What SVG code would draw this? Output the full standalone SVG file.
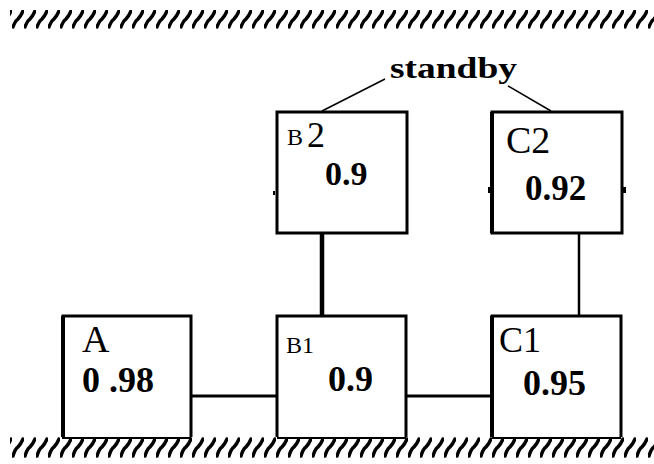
<svg xmlns="http://www.w3.org/2000/svg" width="654" height="464" viewBox="0 0 654 464">
<style>
.box{fill:#fff;stroke:#000;stroke-width:3}
.side{stroke:#000;stroke-width:3;fill:none}
.lbl{font-family:"Liberation Serif",serif;fill:#000}
.num{font-family:"Liberation Serif",serif;font-weight:bold;fill:#000}
.con{stroke:#000;fill:none}
.hs{stroke:#000;stroke-width:3.4;fill:none;stroke-linecap:round}
</style>
<defs>
<pattern id="hatch" x="0" y="10" width="12" height="40" patternUnits="userSpaceOnUse">
<path class="hs" d="M1,17 Q3,11 6,9 Q9,6 11,1"/>
</pattern>
<pattern id="hatchB" x="0" y="437" width="12" height="40" patternUnits="userSpaceOnUse">
<path class="hs" d="M1,19 Q3,12 6,10 Q9,7 11,2"/>
</pattern>
</defs>
<rect width="654" height="464" fill="#fff"/>
<g id="ground-top">
<rect x="10" y="9" width="644" height="20" fill="url(#hatch)"/>
</g>
<g id="ground-bottom">
<rect x="10" y="437" width="644" height="22" fill="url(#hatchB)"/>
<line x1="62" y1="438" x2="191" y2="438" stroke="#000" stroke-width="2"/>
<line x1="277" y1="438" x2="406" y2="438" stroke="#000" stroke-width="2"/>
<line x1="492" y1="438" x2="621" y2="438" stroke="#000" stroke-width="2"/>
</g>
<g id="connectors">
<line class="con" x1="191" y1="396" x2="277" y2="396" stroke-width="3"/>
<line class="con" x1="406" y1="396" x2="492" y2="396" stroke-width="3"/>
<line class="con" x1="322" y1="233" x2="322" y2="315" stroke-width="4.5"/>
<line class="con" x1="579" y1="233" x2="579" y2="315" stroke-width="2.5"/>
<line class="con" x1="385" y1="79" x2="322" y2="111" stroke-width="1.5"/>
<line class="con" x1="508" y1="86" x2="551" y2="111" stroke-width="1.5"/>
</g>
<g id="A">
<path class="side" d="M63,437 V316 H191 V437"/>
<line x1="63" y1="316" x2="63" y2="437" stroke="#000" stroke-width="4"/>
<text class="lbl" x="82" y="352" font-size="38">A</text>
<text class="num" x="82" y="392" font-size="36">0 .98</text>
</g>
<g id="B1">
<path class="side" d="M277,437 V316 H406 V437"/>
<text class="lbl" x="286" y="353" font-size="24">B1</text>
<text class="num" x="328" y="391" font-size="36">0.9</text>
</g>
<g id="C1">
<path class="side" d="M492,437 V316 H621 V437"/>
<line x1="492" y1="316" x2="492" y2="437" stroke="#000" stroke-width="4"/>
<text class="lbl" x="499" y="352" font-size="36">C1</text>
<text class="num" x="523" y="395" font-size="36">0.95</text>
</g>
<g id="B2">
<rect class="box" x="277" y="112" width="130" height="121"/>
<rect x="273" y="191" width="2" height="4" fill="#000"/>
<text class="lbl" x="287" y="145" font-size="24">B</text>
<text class="lbl" x="307" y="147" font-size="36">2</text>
<text class="num" x="325" y="185" font-size="34">0.9</text>
</g>
<g id="C2">
<rect class="box" x="492" y="112" width="130" height="121"/>
<line x1="492" y1="112" x2="492" y2="233" stroke="#000" stroke-width="4"/>
<rect x="488" y="187" width="3" height="6" fill="#000"/>
<rect x="623" y="187" width="3" height="6" fill="#000"/>
<text class="lbl" x="506" y="153" font-size="38">C2</text>
<text class="num" x="525" y="200" font-size="35">0.92</text>
</g>
<g id="standby">
<text class="num" x="390" y="78" font-size="29" textLength="127" lengthAdjust="spacingAndGlyphs">standby</text>
</g>
</svg>
